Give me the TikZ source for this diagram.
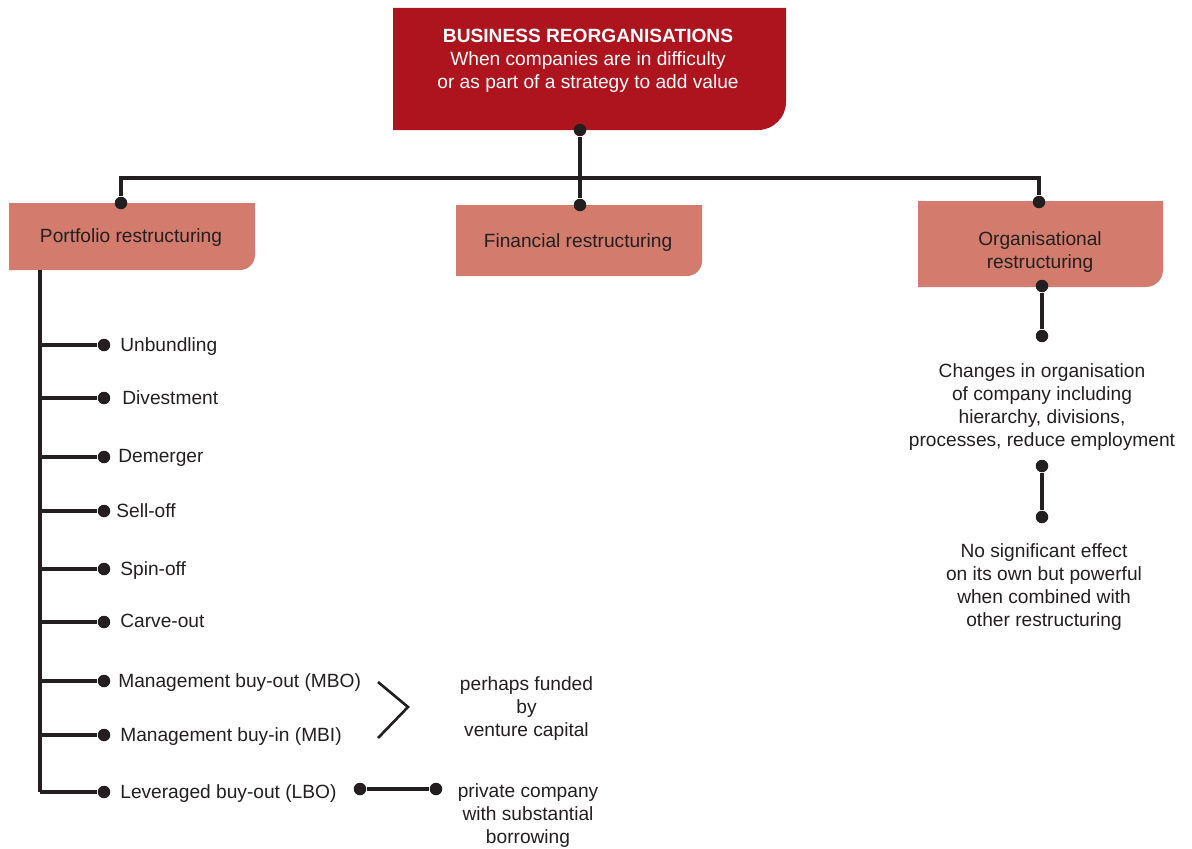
\documentclass[tikz,border=0pt]{standalone}
\usepackage{fontspec}
\setmainfont{Liberation Sans}
\definecolor{brandred}{HTML}{AE141E}
\definecolor{salmon}{HTML}{D37C6E}
\definecolor{ink}{HTML}{231F20}
% filled panel with a single rounded corner at the bottom right
% args: colour, x1, y1, x2, y2, corner radius
\newcommand\tabshape[6]{%
  \fill[#1] (#2,#3) -- (#4,#3) -- (#4,#5-#6)
    .. controls (#4,#5-0.448*#6) and (#4-0.448*#6,#5) .. (#4-#6,#5)
    -- (#2,#5) -- cycle;}
\begin{document}
\begin{tikzpicture}[x=0.02cm,y=-0.02cm,
  every node/.style={font=\fontsize{10.9}{13.1}\selectfont, text=ink, inner sep=0pt},
  dot/.style={circle, fill=ink, minimum size=0.25cm, inner sep=0pt},
  wire/.style={draw=ink, line width=1.9pt},
  item/.style={anchor=north west},
  note/.style={anchor=north, align=center},
]
\useasboundingbox (0,0) rectangle (1192,848);

% panels
\tabshape{brandred}{393}{8}{786}{130}{28}
\tabshape{salmon}{9}{203}{255}{270}{15}
\tabshape{salmon}{456}{205}{702}{276}{15}
\tabshape{salmon}{918}{201}{1163}{287}{17}

% panel texts
\node[note, text=white] (top) at (588,29)
  {\textbf{BUSINESS REORGANISATIONS}\\When companies are in difficulty\\or as part of a strategy to add value};
\node[note] (port) at (131,228) {Portfolio restructuring};
\node[note] (fin) at (578,233) {Financial restructuring};
\node[note] (org) at (1040,231) {Organisational\\restructuring};

% junction dots
\node[dot] (dTop) at (580,130) {};
\node[dot] (dPort) at (121,203) {};
\node[dot] (dFin) at (580,205) {};
\node[dot] (dOrg) at (1039,202) {};
\coordinate (busL) at (121,178);
\coordinate (busR) at (1039,178);

\draw[wire] (dTop) -- (dFin);
\draw[wire] (dPort) -- (busL) -- (busR) -- (dOrg);

% organisational branch
\node[dot] (dO1) at (1042,286) {};
\node[dot] (dO2) at (1042,336) {};
\node[note] (chg) at (1042,363)
  {Changes in organisation\\of company including\\hierarchy, divisions,\\processes, reduce employment};
\node[dot] (dO3) at (1042,466) {};
\node[dot] (dO4) at (1042,517) {};
\node[note] (eff) at (1044,543)
  {No significant effect\\on its own but powerful\\when combined with\\other restructuring};
\draw[wire] (dO1) -- (dO2);
\draw[wire] (dO3) -- (dO4);

% portfolio branch: trunk and items
\coordinate (trunk) at (40,270);
\foreach \nm/\y/\tx/\lbl in {
    unb/345/120/Unbundling,
    div/398/122/Divestment,
    dem/457/118/Demerger,
    sel/511/116/Sell-off,
    spi/569/120/Spin-off,
    car/622/120/Carve-out,
    mbo/681/118/Management buy-out (MBO),
    mbi/735/120/Management buy-in (MBI),
    lbo/792/120/Leveraged buy-out (LBO)} {
  \node[dot] (d\nm) at (104,\y) {};
  \node[item] (\nm) at (\tx,\y-8) {\lbl};
  \draw[wire] (trunk |- d\nm) -- (d\nm);
}
\draw[wire] (trunk) -- (trunk |- dlbo);

% buy-out notes
\coordinate (brT) at (378,682);
\coordinate (brM) at (408,707);
\coordinate (brB) at (378,738);
\draw[draw=ink, line width=1.5pt] (brT) -- (brM) -- (brB);
\node[note] (vc) at (526.5,676) {perhaps funded\\by\\venture capital};

\node[dot] (dL1) at (360,789) {};
\node[dot] (dL2) at (436,789) {};
\draw[wire] (dL1) -- (dL2);
\node[note] (pc) at (528,783) {private company\\with substantial\\borrowing};
\end{tikzpicture}
\end{document}
